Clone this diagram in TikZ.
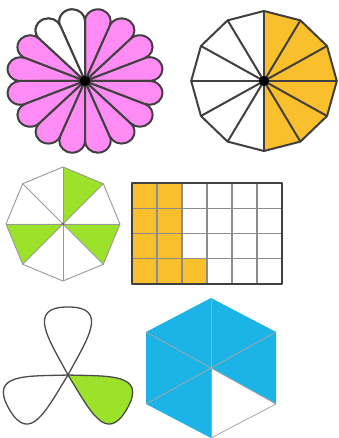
\documentclass[tikz,border=0pt]{standalone}
\usetikzlibrary{calc}
\definecolor{petalpink}{HTML}{FF8CF4}
\definecolor{sunorange}{HTML}{F9BF2C}
\definecolor{leafgreen}{HTML}{9CE22A}
\definecolor{skyblue}{HTML}{1CB3E6}
\tikzset{
  petal/.style={draw=black!75, line width=2pt, line join=round, fill=petalpink},
  thickline/.style={draw=black!75, line width=2pt, line join=round},
  thinline/.style={draw=black!40, line width=0.9pt, line join=round},
  gridline/.style={draw=black!45, line width=1.3pt},
  loopline/.style={draw=black!70, line width=1.3pt, line join=round},
  hexline/.style={draw=gray!70, line width=0.8pt},
}
\begin{document}
\begin{tikzpicture}[x=1pt, y=1pt]
\useasboundingbox (0,0) rectangle (339,438);
\fill[white] (0,0) rectangle (339,438);

%% ---- FLOWER (16 petals, 14 pink) ----
\begin{scope}[shift={(85,357)}, xscale=1.08]
  \foreach \a in {11.25,33.75,...,348.75}
    \draw[petal] (0,0) -- (\a-11.25:59.8)
      arc[start angle=\a-101.25, end angle=\a+101.25, radius=11.9] -- cycle;
  \foreach \a in {101.25,123.75}
    \draw[petal, fill=white] (0,0) -- (\a-11.25:59.8)
      arc[start angle=\a-101.25, end angle=\a+101.25, radius=11.9] -- cycle;
  \fill (0,0) circle[radius=5];
\end{scope}

%% ---- 12-GON (half orange) ----
\begin{scope}[shift={(264,357)}, xscale=1.04]
  \fill[sunorange] (0,0) \foreach \a in {-90,-60,...,90} { -- (\a:70) } -- cycle;
  \foreach \a in {0,30,...,330}
    \draw[thickline] (0,0) -- (\a:70);
  \draw[thickline] (0:70) \foreach \a in {30,60,...,330} { -- (\a:70) } -- cycle;
  \fill (0,0) circle[radius=5];
\end{scope}

%% ---- OCTAGON (3 of 8 green) ----
\begin{scope}[shift={(63,214)}]
  \fill[leafgreen] (0,0) -- (90:57) -- (45:57) -- cycle;
  \fill[leafgreen] (0,0) -- (0:57) -- (-45:57) -- cycle;
  \fill[leafgreen] (0,0) -- (180:57) -- (225:57) -- cycle;
  \foreach \a in {0,45,...,315}
    \draw[thinline] (0,0) -- (\a:57);
  \draw[thinline] (0:57) \foreach \a in {45,90,...,315} { -- (\a:57) } -- cycle;
  \fill[black!60] (0,0) circle[radius=1.5];
\end{scope}

%% ---- GRID (9 of 24 orange) ----
\begin{scope}[shift={(132,154)}, yscale=1.01]
  \fill[sunorange] (0,0) rectangle (75,25);
  \fill[sunorange] (0,25) rectangle (50,100);
  \foreach \i in {1,...,5}
    \draw[gridline] (25*\i,0) -- (25*\i,100);
  \foreach \j in {1,...,3}
    \draw[gridline] (0,25*\j) -- (150,25*\j);
  \draw[thickline] (0,0) rectangle (150,100);
\end{scope}

%% ---- TREFOIL (1 of 3 green) ----
\begin{scope}[shift={(68,63)}]
  \foreach \t/\c in {90/white, 210/white, 330/leafgreen}
    \draw[loopline, fill=\c] (0,0)
      .. controls (\t-28:40) and ($(\t:68)+(\t-90:42)$) .. (\t:68)
      .. controls ($(\t:68)+(\t+90:42)$) and (\t+28:40) .. (0,0);
\end{scope}

%% ---- HEXAGON (5 of 6 blue) ----
\begin{scope}[shift={(211,70)}]
  \coordinate (hc) at (0,0);
  \coordinate (h1) at (0,70);
  \coordinate (h2) at (65,36);
  \coordinate (h3) at (65,-36);
  \coordinate (h4) at (0,-70);
  \coordinate (h5) at (-65,-36);
  \coordinate (h6) at (-65,36);
  \fill[skyblue] (hc) -- (h3) -- (h2) -- (h1) -- (h6) -- (h5) -- (h4) -- cycle;
  \foreach \v in {h1,h2,h3,h4,h5,h6}
    \draw[hexline] (hc) -- (\v);
  \draw[hexline] (h3) -- (h4);
\end{scope}

\end{tikzpicture}
\end{document}
